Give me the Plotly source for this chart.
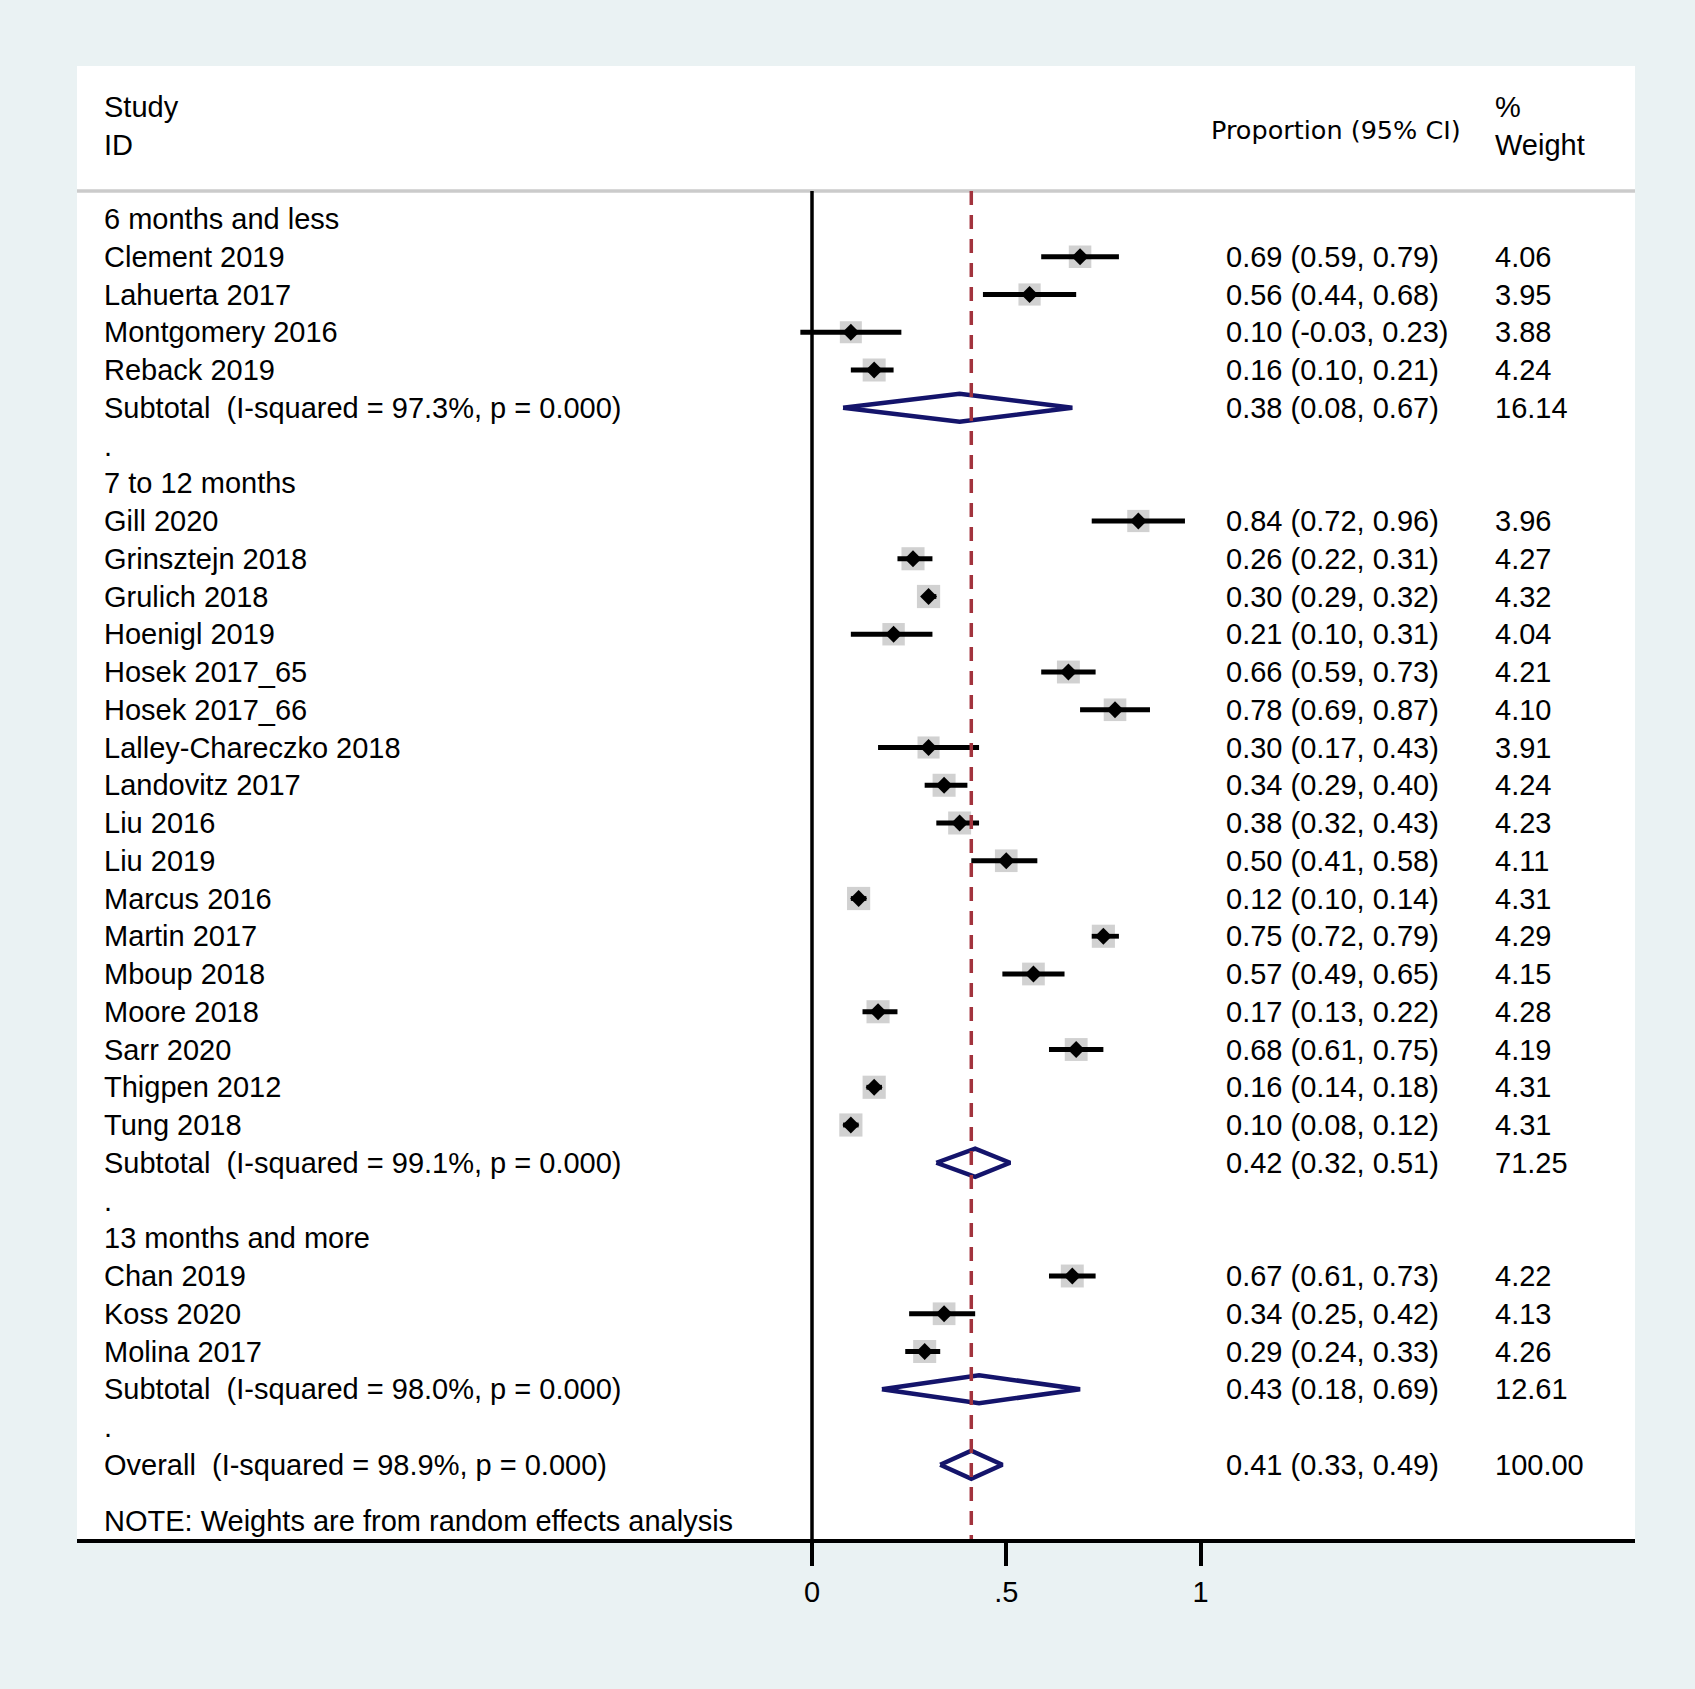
import plotly.graph_objects as go

# ---------------- data ----------------
group_labels = ["6 months and less", "7 to 12 months", "13 months and more"]

g1_studies = ["Clement 2019", "Lahuerta 2017", "Montgomery 2016", "Reback 2019"]
g1_es = [0.69, 0.56, 0.10, 0.16]
g1_lo = [0.59, 0.44, -0.03, 0.10]
g1_hi = [0.79, 0.68, 0.23, 0.21]
g1_w = [4.06, 3.95, 3.88, 4.24]

g2_studies = ["Gill 2020", "Grinsztejn 2018", "Grulich 2018", "Hoenigl 2019",
              "Hosek 2017_65", "Hosek 2017_66", "Lalley-Chareczko 2018",
              "Landovitz 2017", "Liu 2016", "Liu 2019", "Marcus 2016",
              "Martin 2017", "Mboup 2018", "Moore 2018", "Sarr 2020",
              "Thigpen 2012", "Tung 2018"]
g2_es = [0.84, 0.26, 0.30, 0.21, 0.66, 0.78, 0.30, 0.34, 0.38, 0.50, 0.12,
         0.75, 0.57, 0.17, 0.68, 0.16, 0.10]
g2_lo = [0.72, 0.22, 0.29, 0.10, 0.59, 0.69, 0.17, 0.29, 0.32, 0.41, 0.10,
         0.72, 0.49, 0.13, 0.61, 0.14, 0.08]
g2_hi = [0.96, 0.31, 0.32, 0.31, 0.73, 0.87, 0.43, 0.40, 0.43, 0.58, 0.14,
         0.79, 0.65, 0.22, 0.75, 0.18, 0.12]
g2_w = [3.96, 4.27, 4.32, 4.04, 4.21, 4.10, 3.91, 4.24, 4.23, 4.11, 4.31,
        4.29, 4.15, 4.28, 4.19, 4.31, 4.31]

g3_studies = ["Chan 2019", "Koss 2020", "Molina 2017"]
g3_es = [0.67, 0.34, 0.29]
g3_lo = [0.61, 0.25, 0.24]
g3_hi = [0.73, 0.42, 0.33]
g3_w = [4.22, 4.13, 4.26]

sub_i2 = [97.3, 99.1, 98.0]
sub_p = [0.000, 0.000, 0.000]
sub_es = [0.38, 0.42, 0.43]
sub_lo = [0.08, 0.32, 0.18]
sub_hi = [0.67, 0.51, 0.69]
sub_w = [16.14, 71.25, 12.61]

overall_i2 = 98.9
overall_p = 0.000
overall_es = 0.41
overall_lo = 0.33
overall_hi = 0.49
overall_w = 100.00

x_tickvals = [0, 0.5, 1]
x_ticktext = ["0", ".5", "1"]

note_text = "NOTE: Weights are from random effects analysis"

# ---------------- geometry (pixel calibration) ----------------
W, H = 1695, 1689
ML, MR, MT, MB = 77, 60, 66, 150
X0_PX, UNIT = 812.0, 388.5          # pixel of x=0 and px per unit
ROW0_PX, ROW_H = 219.0, 37.75        # pixel of row 0 and row height


def px_to_x(px):
    return (px - X0_PX) / UNIT


def px_to_r(py):
    return (py - ROW0_PX) / ROW_H


x_range = [px_to_x(ML), px_to_x(W - MR)]
y_range = [px_to_r(H - MB), px_to_r(MT)]

FONT = "Liberation Sans, Arial, sans-serif"
FS = 29
NAVY = "#14146b"
RED = "#a2333d"
GREY = "#bdbdbd"

groups = [
    (g1_studies, g1_es, g1_lo, g1_hi, g1_w),
    (g2_studies, g2_es, g2_lo, g2_hi, g2_w),
    (g3_studies, g3_es, g3_lo, g3_hi, g3_w),
]

# build rows
study_rows = []   # (row, label, es, lo, hi, w)
sub_rows = []     # (row, label, es, lo, hi, w)
header_rows = []  # (row, label)
dot_rows = []
r = 0
for gi, (names, es, lo, hi, w) in enumerate(groups):
    header_rows.append((r, group_labels[gi]))
    r += 1
    for n, e, l, h, ww in zip(names, es, lo, hi, w):
        study_rows.append((r, n, e, l, h, ww))
        r += 1
    lab = "Subtotal\u00a0 (I-squared = %.1f%%, p = %.3f)" % (sub_i2[gi], sub_p[gi])
    sub_rows.append((r, lab, sub_es[gi], sub_lo[gi], sub_hi[gi], sub_w[gi]))
    r += 1
    dot_rows.append(r)
    r += 1
overall_row = r
sub_rows.append((overall_row,
                 "Overall\u00a0 (I-squared = %.1f%%, p = %.3f)" % (overall_i2, overall_p),
                 overall_es, overall_lo, overall_hi, overall_w))
note_row = overall_row + 1.5

header_line_r = px_to_r(191)
bottom_r = y_range[0]

fig = go.Figure()

# vertical line at 0
fig.add_trace(go.Scatter(x=[0, 0], y=[header_line_r, bottom_r], mode="lines",
                         line=dict(color="black", width=3.5), hoverinfo="skip"))

# weight squares
max_w_ref = 4.06
fig.add_trace(go.Scatter(
    x=[s[2] for s in study_rows], y=[s[0] for s in study_rows], mode="markers",
    marker=dict(symbol="square", color=GREY,
                size=[22.5 * (s[5] / max_w_ref) ** 0.5 for s in study_rows],
                line=dict(width=0)),
    hoverinfo="skip"))

# CI lines
cx, cy = [], []
for s in study_rows:
    cx += [s[3], s[4], None]
    cy += [s[0], s[0], None]
fig.add_trace(go.Scatter(x=cx, y=cy, mode="lines",
                         line=dict(color="black", width=4.8), hoverinfo="skip"))

# point diamonds
fig.add_trace(go.Scatter(
    x=[s[2] for s in study_rows], y=[s[0] for s in study_rows], mode="markers",
    marker=dict(symbol="diamond", color="black", size=13, line=dict(width=0)),
    hoverinfo="skip"))

# pooled diamonds
hh = 14.0 / ROW_H
for s in sub_rows:
    rr, _, e, l, h, _ = s
    fig.add_trace(go.Scatter(
        x=[l, e, h, e, l], y=[rr, rr - hh, rr, rr + hh, rr], mode="lines",
        fill="toself", fillcolor="white",
        line=dict(color=NAVY, width=4.5), hoverinfo="skip"))

# overall dashed line
fig.add_trace(go.Scatter(x=[overall_es, overall_es], y=[header_line_r, bottom_r],
                         mode="lines",
                         line=dict(color=RED, width=3.5, dash="14px,10px"),
                         hoverinfo="skip"))

ann = []
X_LEFT = px_to_x(102)
X_ES = px_to_x(1224)
X_W = px_to_x(1493)


def add_text(x, y, text, size=FS, family=FONT):
    ann.append(dict(x=x, y=y, xref="x", yref="y", text=text, showarrow=False,
                    xanchor="left", yanchor="middle",
                    font=dict(family=family, size=size, color="black")))


# header
add_text(X_LEFT, px_to_r(107), "Study")
add_text(X_LEFT, px_to_r(145), "ID")
add_text(px_to_x(1209), px_to_r(130), "Proportion (95% CI)", size=25.5,
         family="DejaVu Sans, sans-serif")
add_text(X_W, px_to_r(107), "%")
add_text(X_W, px_to_r(145), "Weight")

for rr, lab in header_rows:
    add_text(X_LEFT, rr, lab)
for rr in dot_rows:
    add_text(X_LEFT, rr, ".")
for s in study_rows + sub_rows:
    rr, lab, e, l, h, w = s
    add_text(X_LEFT, rr, lab)
    add_text(X_ES, rr, "%.2f (%.2f, %.2f)" % (e, l, h))
    add_text(X_W, rr, "%.2f" % w)
add_text(X_LEFT, note_row, note_text)

fig.update_layout(
    width=W, height=H,
    margin=dict(l=ML, r=MR, t=MT, b=MB, pad=0),
    paper_bgcolor="#eaf2f3",
    plot_bgcolor="white",
    showlegend=False,
    annotations=ann,
    shapes=[dict(type="line", xref="paper", yref="y", x0=0, x1=1,
                 y0=header_line_r, y1=header_line_r,
                 line=dict(color="#cbcbcb", width=3.5), layer="below")],
    xaxis=dict(range=x_range, showgrid=False, zeroline=False,
               showline=True, linecolor="black", linewidth=3.5,
               tickvals=x_tickvals, ticktext=x_ticktext,
               ticks="outside", ticklen=23, tickwidth=3.5, tickcolor="black",
               ticklabelstandoff=1,
               tickfont=dict(family=FONT, size=FS, color="black")),
    yaxis=dict(range=y_range, showgrid=False, zeroline=False, showline=False,
               showticklabels=False, ticks=""),
)

fig.write_html("out.html",
               config={"displayModeBar": False},
               post_script="document.body.style.margin='0';"
                           "document.body.style.background='#eaf2f3';")
